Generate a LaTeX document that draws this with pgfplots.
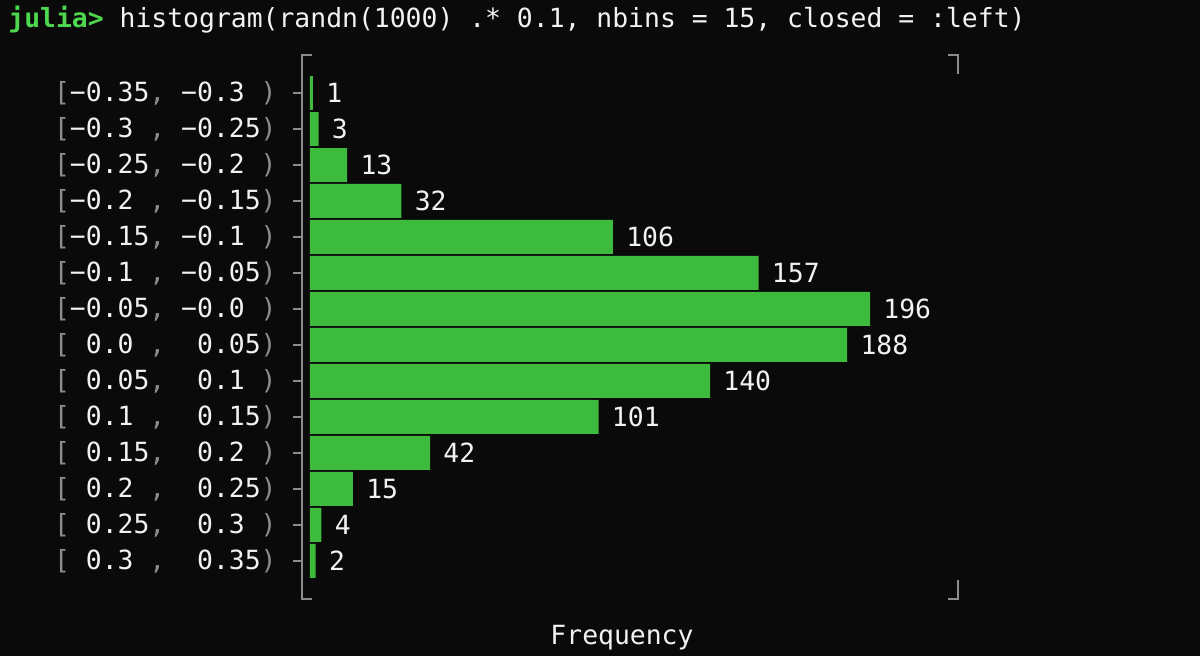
\documentclass[border=0pt]{standalone}
\usepackage{pgfplots}
\pgfplotsset{compat=1.18}
\usepackage{fontspec}
\setmainfont{DejaVu Sans Mono}
\definecolor{bg}{HTML}{0A0A0A}
\definecolor{bargreen}{HTML}{3CBB3C}
\definecolor{jgreen}{HTML}{4FD64F}
\definecolor{lgray}{HTML}{8C8C8C}
\definecolor{fg}{HTML}{F2F2F2}
\newcommand\g[1]{\textcolor{lgray}{#1}}
\newcommand\s{\hphantom{0}}
\newcommand\lab[2]{\g{[}#1\g{,}\s#2\g{)}}
\newcommand\tfont{\fontsize{13.2}{15}\selectfont}
\begin{document}
\begin{tikzpicture}
\fill[bg] (0,0) rectangle (600pt,328pt);
\node[anchor=base west, inner sep=0pt, font=\tfont, text=fg] at (4pt,314pt)
  {\textbf{\textcolor{jgreen}{julia>}} histogram(randn(1000) .* 0.1, nbins = 15, closed = :left)};
\begin{axis}[
  at={(151pt,28.5pt)}, anchor=south west,
  width=328pt, height=272pt, scale only axis,
  xbar, bar width=0.944,
  xmin=-2.8, xmax=226.8,
  ymin=-1.056, ymax=14.056,
  axis y line*=left, axis x line=none,
  y axis line style={lgray, line width=1.3pt},
  xtick=\empty,
  ytick={0,...,13},
  yticklabels={
    {\lab{\s0.3\s}{\s0.35}},
    {\lab{\s0.25}{\s0.3\s}},
    {\lab{\s0.2\s}{\s0.25}},
    {\lab{\s0.15}{\s0.2\s}},
    {\lab{\s0.1\s}{\s0.15}},
    {\lab{\s0.05}{\s0.1\s}},
    {\lab{\s0.0\s}{\s0.05}},
    {\lab{−0.05}{−0.0\s}},
    {\lab{−0.1\s}{−0.05}},
    {\lab{−0.15}{−0.1\s}},
    {\lab{−0.2\s}{−0.15}},
    {\lab{−0.25}{−0.2\s}},
    {\lab{−0.3\s}{−0.25}},
    {\lab{−0.35}{−0.3\s}}},
  tick align=outside, major tick length=4.5pt,
  ytick style={lgray, line width=1.3pt},
  yticklabel style={font=\tfont, text=fg, anchor=east, inner sep=0pt, xshift=-8pt},
  /pgf/number format/assume math mode=true,
  point meta=x,
  nodes near coords,
  nodes near coords style={anchor=west, inner sep=0pt, xshift=6.5pt, text=fg, font=\tfont},
  clip=false,
]
\addplot[fill=bargreen, draw=none] coordinates {
  (1,13) (3,12) (13,11) (32,10) (106,9) (157,8) (196,7)
  (188,6) (140,5) (101,4) (42,3) (15,2) (4,1) (2,0)};
\draw[lgray, line width=1.3pt] (rel axis cs:0.0152,1) -- (rel axis cs:0,1) -- (rel axis cs:0,0) -- (rel axis cs:0.0152,0);
\draw[lgray, line width=1.3pt] (rel axis cs:0.9848,1) -- (rel axis cs:1,1) -- (rel axis cs:1,0.965);
\draw[lgray, line width=1.3pt] (rel axis cs:1,0.035) -- (rel axis cs:1,0) -- (rel axis cs:0.9848,0);
\end{axis}
\node[anchor=center, inner sep=0pt, font=\tfont, text=fg] at (311pt,9pt) {Frequency};
\end{tikzpicture}
\end{document}
